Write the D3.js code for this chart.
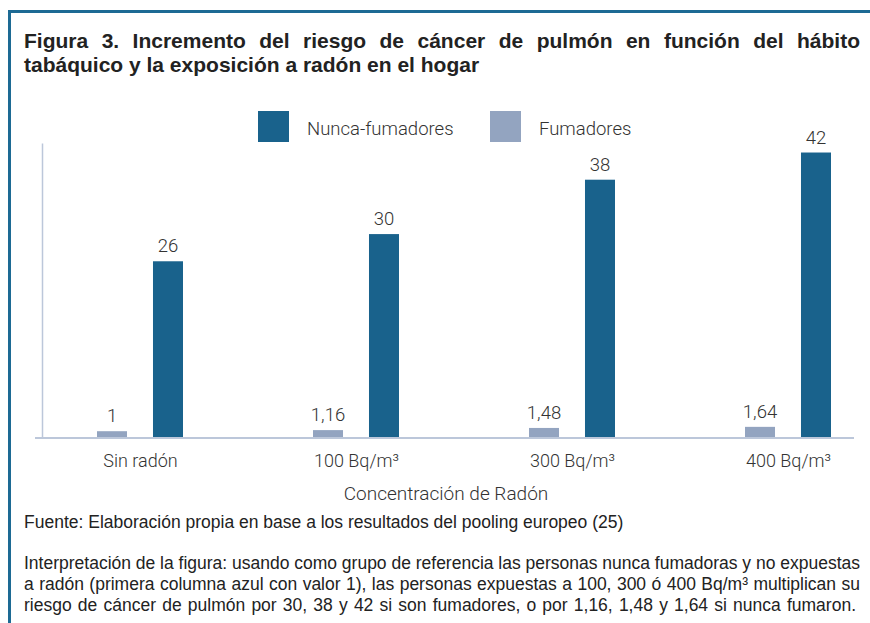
<!DOCTYPE html>
<html>
<head>
<meta charset="utf-8">
<script src="https://cdnjs.cloudflare.com/ajax/libs/d3/7.8.5/d3.min.js"></script>
<style>
    body { margin: 0; background: #fff; }
    svg { display: block; }
    .txt { font-family: 'Liberation Sans', Arial, sans-serif; fill: #222; }
    .light { font-family: Roboto, 'Liberation Sans', sans-serif; font-weight: 300; fill: #333; }
</style>
</head>
<body>
<svg id="chart" width="870" height="623"></svg>
<script>
// data
var categories = ['Sin radón', '100 Bq/m³', '300 Bq/m³', '400 Bq/m³'];
var seriesNames = ['Fumadores', 'Nunca-fumadores'];
var fumadores = [1, 1.16, 1.48, 1.64];
var nuncaFumadores = [26, 30, 38, 42];
var valueLabels = {
    'Fumadores': ['1', '1,16', '1,48', '1,64'],
    'Nunca-fumadores': ['26', '30', '38', '42']
};
var legendOrder = ['Nunca-fumadores', 'Fumadores'];

var titleLines = [
    'Figura 3. Incremento del riesgo de cáncer de pulmón en función del hábito',
    'tabáquico y la exposición a radón en el hogar'
];
var xTitle = 'Concentración de Radón';
var sourceLine = 'Fuente: Elaboración propia en base a los resultados del pooling europeo (25)';
var noteLines = [
    'Interpretación de la figura: usando como grupo de referencia las personas nunca fumadoras y no expuestas',
    'a radón (primera columna azul con valor 1), las personas expuestas a 100, 300 ó 400 Bq/m³ multiplican su',
    'riesgo de cáncer de pulmón por 30, 38 y 42 si son fumadores, o por 1,16, 1,48 y 1,64 si nunca fumaron.'
];

var colors = { 'Nunca-fumadores': '#19628c', 'Fumadores': '#93a4c0' };
var frameColor = '#1d6a94';
var axisColor = '#bcc7da';

var svg = d3.select('#chart');

// frame (top + left rule)
svg.append('line').attr('x1', 8).attr('x2', 870).attr('y1', 11.5).attr('y2', 11.5)
    .attr('stroke', frameColor).attr('stroke-width', 3);
svg.append('line').attr('x1', 9.5).attr('x2', 9.5).attr('y1', 10).attr('y2', 623)
    .attr('stroke', frameColor).attr('stroke-width', 3);

// spread words of a line between x0 and x1
function justify(g, str, x0, x1, y, cls, size, weight) {
    var words = str.split(' ');
    var t = g.append('text').attr('class', cls).attr('y', y)
        .style('font-size', size + 'px');
    if (weight) t.style('font-weight', weight);
    var spans = words.map(function (w) { return t.append('tspan').text(w); });
    var widths = spans.map(function (s) { return s.node().getComputedTextLength(); });
    var total = d3.sum(widths);
    var gap = (x1 - x0 - total) / (words.length - 1);
    var x = x0;
    spans.forEach(function (s, i) {
        s.attr('x', x);
        x += widths[i] + gap;
    });
}

// title
justify(svg, titleLines[0], 24, 860, 48, 'txt', 21, 'bold');
svg.append('text').attr('class', 'txt').attr('x', 24).attr('y', 72)
    .style('font-size', '21px').style('font-weight', 'bold').text(titleLines[1]);

// scales
var x = d3.scalePoint().domain(categories).range([140, 788]);
var xInner = d3.scaleBand().domain(seriesNames).range([-43, 43]).paddingInner(0.464);
var y = d3.scaleLinear().domain([0, 43.4]).range([438, 143]);

// y axis line (no ticks)
var yAxis = d3.axisLeft(y).ticks(0).tickSizeOuter(0);
svg.append('g').attr('transform', 'translate(42,0)').call(yAxis)
    .select('.domain').attr('stroke', axisColor).attr('stroke-width', 1.5);

// bars
var rows = categories.map(function (c, i) {
    return { cat: c, i: i, values: { 'Fumadores': fumadores[i], 'Nunca-fumadores': nuncaFumadores[i] } };
});

var groups = svg.selectAll('g.grp').data(rows).enter().append('g')
    .attr('class', 'grp')
    .attr('transform', function (d) { return 'translate(' + x(d.cat) + ',0)'; });

groups.selectAll('rect').data(function (d) {
    return seriesNames.map(function (s) { return { s: s, v: d.values[s], i: d.i }; });
}).enter().append('rect')
    .attr('x', function (d) { return xInner(d.s); })
    .attr('width', xInner.bandwidth())
    .attr('y', function (d) { return y(d.v); })
    .attr('height', function (d) { return y(0) - y(d.v); })
    .attr('fill', function (d) { return colors[d.s]; });

groups.selectAll('text.val').data(function (d) {
    return seriesNames.map(function (s) { return { s: s, v: d.values[s], i: d.i }; });
}).enter().append('text')
    .attr('class', 'val light')
    .attr('x', function (d) { return xInner(d.s) + xInner.bandwidth() / 2; })
    .attr('y', function (d) { return y(d.v) - 9; })
    .attr('text-anchor', 'middle')
    .style('font-size', '18.5px')
    .text(function (d) { return valueLabels[d.s][d.i]; });

// x axis
var xAxis = d3.axisBottom(x).tickSize(0).tickPadding(16);
var gx = svg.append('g').attr('transform', 'translate(0,438)').call(xAxis);
gx.select('.domain').remove();
gx.append('line').attr('x1', 35).attr('x2', 854).attr('y1', 0).attr('y2', 0)
    .attr('stroke', axisColor).attr('stroke-width', 2);
gx.selectAll('.tick text').attr('class', 'light')
    .style('font-size', '18px').attr('font-family', null).attr('fill', null);

svg.append('text').attr('class', 'light').attr('x', 446).attr('y', 500)
    .attr('text-anchor', 'middle').style('font-size', '19px').text(xTitle);

// legend
var lx = [258, 490];
legendOrder.forEach(function (s, i) {
    svg.append('rect').attr('x', lx[i]).attr('y', 111).attr('width', 31).attr('height', 31)
        .attr('fill', colors[s]);
    svg.append('text').attr('class', 'light').attr('x', lx[i] + 49).attr('y', 135)
        .style('font-size', '18.5px').text(s);
});

// footer
svg.append('text').attr('class', 'txt').attr('x', 24).attr('y', 528)
    .style('font-size', '17.5px').text(sourceLine);
justify(svg, noteLines[0], 24, 860, 569, 'txt', 17.5);
justify(svg, noteLines[1], 24, 860, 590, 'txt', 17.5);
justify(svg, noteLines[2], 24, 856, 611, 'txt', 17.5);
</script>
</body>
</html>
